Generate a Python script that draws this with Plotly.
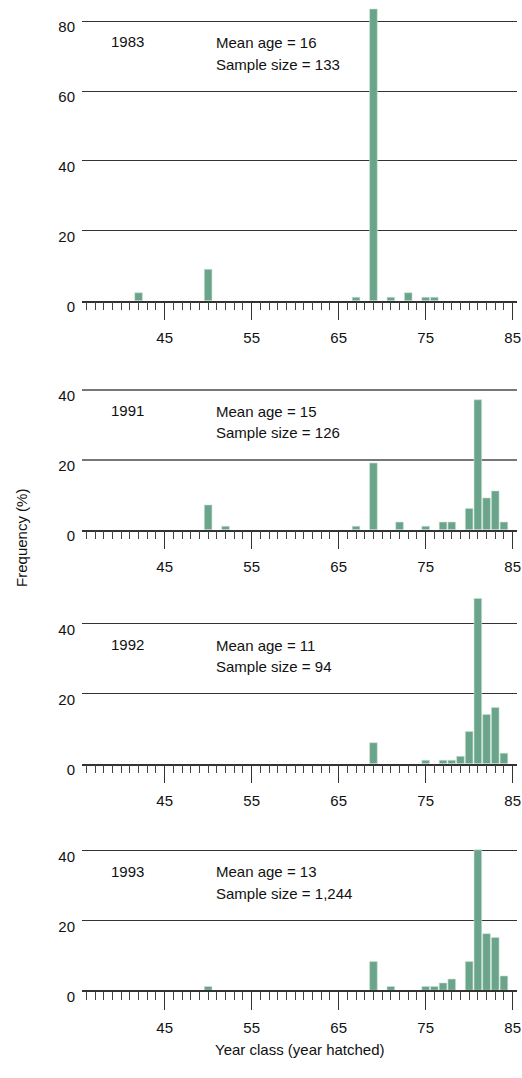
import plotly.graph_objects as go

# ---------------- data ----------------
survey_years = ["1983", "1991", "1992", "1993"]
mean_ages = ["16", "15", "11", "13"]
sample_sizes = ["133", "126", "94", "1,244"]

years_1983 = [42, 50, 67, 69, 71, 73, 75, 76]
freq_1983 = [2.3, 9.0, 1.0, 83.5, 1.0, 2.3, 1.0, 1.0]

years_1991 = [50, 52, 67, 69, 72, 75, 77, 78, 80, 81, 82, 83, 84]
freq_1991 = [7.1, 1.0, 1.0, 19.1, 2.2, 1.0, 2.2, 2.2, 6.1, 37.2, 9.1, 11.1, 2.2]

years_1992 = [69, 75, 77, 78, 79, 80, 81, 82, 83, 84]
freq_1992 = [6.0, 1.0, 1.0, 1.0, 2.1, 9.2, 47.3, 14.1, 16.1, 3.0]

years_1993 = [50, 69, 71, 75, 76, 77, 78, 80, 81, 82, 83, 84]
freq_1993 = [1.1, 8.2, 1.1, 1.1, 1.1, 2.1, 3.2, 8.2, 40.2, 16.2, 15.1, 4.1]

x_major_ticks = [45, 55, 65, 75, 85]
y_ticks_list = [[0, 20, 40, 60, 80], [0, 20, 40], [0, 20, 40], [0, 20, 40]]

# ---------------- layout geometry ----------------
W, H = 522, 1078
PX_PER_UNIT = 3.54
bottoms_px = [304.7, 536.7, 773.7, 1003.3]
y_tops = [85, 44, 48, 44]
grid_top = [80, 40, 40, 40]

FONT = "Liberation Sans, Arial, sans-serif"
FS = 15
BAR_COLOR = "#6aa48a"

series = [(years_1983, freq_1983), (years_1991, freq_1991),
          (years_1992, freq_1992), (years_1993, freq_1993)]

fig = go.Figure()
annotations = []
for i, (xs, ys) in enumerate(series):
    n = "" if i == 0 else str(i + 1)
    fig.add_trace(go.Bar(
        x=xs, y=ys, xaxis="x" + n, yaxis="y" + n,
        marker=dict(color=BAR_COLOR, line=dict(color="#cfe3d9", width=0.6)),
        width=0.88, showlegend=False, hoverinfo="x+y",
    ))
    bot = bottoms_px[i]
    top = bot - y_tops[i] * PX_PER_UNIT
    dom = [1 - bot / H, 1 - top / H]
    gridcol = "#777777" if i == 1 else "#333333"
    gridw = 1.8 if i == 1 else 1.3
    fig.layout["xaxis" + n] = dict(
        domain=[0, 1], range=[35.5, 85.5], anchor="y" + n,
        tickmode="array", tickvals=x_major_ticks,
        ticks="outside", ticklen=18, tickwidth=1.2, tickcolor="#333",
        showline=True, linecolor="#333", linewidth=1.5,
        showgrid=False, zeroline=False,
        ticklabelstandoff=5, ticklabeloverflow="allow",
        tickfont=dict(family=FONT, size=FS, color="#111"),
        minor=dict(ticks="outside", ticklen=8, tickwidth=1, tickcolor="#444",
                   tickmode="linear", tick0=0, dtick=1, showgrid=False),
        fixedrange=True,
    )
    fig.layout["yaxis" + n] = dict(
        domain=dom, range=[0, y_tops[i]], anchor="x" + n,
        tickmode="array", tickvals=y_ticks_list[i],
        showgrid=True, gridcolor=gridcol, gridwidth=gridw,
        zeroline=False, showline=False, ticks="",
        ticklabelshift=6, ticklabelstandoff=6,
        tickfont=dict(family=FONT, size=FS, color="#111"),
        fixedrange=True,
    )
    g = grid_top[i]
    annotations.append(dict(
        text=survey_years[i], xref="x" + n, yref="y" + n,
        x=38.6, y=g - 21 / PX_PER_UNIT, xanchor="left", yanchor="middle",
        showarrow=False, font=dict(family=FONT, size=FS, color="#111")))
    annotations.append(dict(
        text="Mean age = " + mean_ages[i], xref="x" + n, yref="y" + n,
        x=50.7, y=g - 21.5 / PX_PER_UNIT, xanchor="left", yanchor="middle",
        showarrow=False, font=dict(family=FONT, size=FS, color="#111")))
    annotations.append(dict(
        text="Sample size = " + sample_sizes[i], xref="x" + n, yref="y" + n,
        x=50.7, y=g - 43.5 / PX_PER_UNIT, xanchor="left", yanchor="middle",
        showarrow=False, font=dict(family=FONT, size=FS, color="#111")))

annotations.append(dict(
    text="Frequency (%)", xref="paper", yref="paper",
    x=-(82 - 22) / (W - 82 - 5), y=1 - 545 / H, xanchor="center", yanchor="middle",
    textangle=-90, showarrow=False, font=dict(family=FONT, size=FS, color="#111")))
annotations.append(dict(
    text="Year class (year hatched)", xref="paper", yref="paper",
    x=0.5, y=1 - 1063 / H, xanchor="center", yanchor="middle",
    showarrow=False, font=dict(family=FONT, size=FS, color="#111")))

fig.update_layout(
    width=W, height=H,
    margin=dict(l=82, r=5, t=0, b=0),
    paper_bgcolor="white", plot_bgcolor="white",
    bargap=0.1, annotations=annotations,
    font=dict(family=FONT, size=FS, color="#111"),
)

fig.write_html("out.html", config={"displayModeBar": False})
